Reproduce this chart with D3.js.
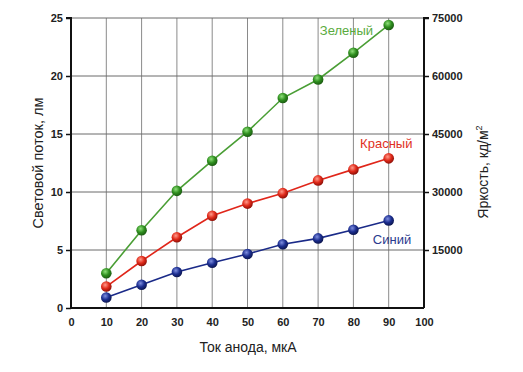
<!DOCTYPE html>
<html><head><meta charset="utf-8">
<script src="https://cdn.jsdelivr.net/npm/d3@7"></script>
<style>body{margin:0;background:#fff}svg{display:block}</style>
</head><body><svg id="c" width="523" height="372"></svg>
<script>
const current = [10,20,30,40,50,60,70,80,90];
const green = [3.0,6.7,10.1,12.7,15.2,18.1,19.7,22.0,24.4];
const red = [1.85,4.05,6.1,7.95,9.0,9.9,11.0,11.95,12.9];
const blue = [0.9,2.0,3.1,3.9,4.65,5.5,6.0,6.75,7.55];
const xTicks = [0,10,20,30,40,50,60,70,80,90,100];
const yTicks = [0,5,10,15,20,25];
const y2Ticks = [15000,30000,45000,60000,75000];
const seriesNames = ["Зеленый","Красный","Синий"];

const svg = d3.select("#c");
const L=71,R=424,T=18,B=308;
const x = d3.scaleLinear().domain([0,100]).range([L,R]);
const y = d3.scaleLinear().domain([0,25]).range([B,T]);
const y2 = d3.scaleLinear().domain([0,75000]).range([B,T]);

// gradients
const defs = svg.append("defs");
const cols = [["g","#8fe07a","#2f8f1f","#1c5c12"],["r","#ff9a8a","#e02a1a","#901008"],["b","#7f8fe0","#1c2e90","#0c1650"]];
cols.forEach(([id,c1,c2,c3])=>{
  const g=defs.append("radialGradient").attr("id","grad"+id).attr("cx","40%").attr("cy","35%").attr("r","65%");
  g.append("stop").attr("offset","0%").attr("stop-color",c1);
  g.append("stop").attr("offset","55%").attr("stop-color",c2);
  g.append("stop").attr("offset","100%").attr("stop-color",c3);
});

// grid
svg.append("g").selectAll("line").data(xTicks.slice(1,-1)).join("line")
  .attr("x1",d=>x(d)).attr("x2",d=>x(d)).attr("y1",T).attr("y2",B)
  .attr("stroke","#8a8a8a").attr("stroke-width",1);
svg.append("g").selectAll("line").data(yTicks.slice(1)).join("line")
  .attr("x1",L).attr("x2",R).attr("y1",d=>y(d)).attr("y2",d=>y(d))
  .attr("stroke","#6a6a6a").attr("stroke-width",1);

const font="Liberation Sans, Arial, sans-serif";
// axes
const ax = svg.append("g").attr("transform",`translate(0,${B})`).call(d3.axisBottom(x).tickValues(xTicks).tickSize(0).tickPadding(10));
const ay = svg.append("g").attr("transform",`translate(${L},0)`).call(d3.axisLeft(y).tickValues(yTicks).tickSize(5).tickPadding(3));
const ay2 = svg.append("g").attr("transform",`translate(${R},0)`).call(d3.axisRight(y2).tickValues(y2Ticks).tickFormat(d3.format("d")).tickSize(5).tickPadding(3));
[ax,ay,ay2].forEach(a=>{
  a.select(".domain").attr("stroke","#111").attr("stroke-width",2);
  a.selectAll(".tick line").attr("stroke","#111").attr("stroke-width",1.5);
  a.selectAll("text").attr("font-family",font).attr("font-weight","bold").attr("font-size",11).attr("fill","#222");
});
ay2.select(".domain").attr("d",`M5,${T}H0V${B}`);
ay.select(".domain").attr("d",`M-5,${T}H0V${B}`);
ax.select(".domain").attr("d",`M${L},0H${R}`);

// series
const data=[[green,"#4a9e35","g"],[red,"#e0261a","r"],[blue,"#1a2a88","b"]];
const line=d3.line().x((d,i)=>x(current[i])).y(d=>y(d));
data.forEach(([vals,col,id])=>{
  svg.append("path").datum(vals).attr("d",line).attr("fill","none").attr("stroke",col).attr("stroke-width",1.6);
  svg.append("g").selectAll("circle").data(vals).join("circle")
    .attr("cx",(d,i)=>x(current[i])).attr("cy",d=>y(d)).attr("r",5.3).attr("fill",`url(#grad${id})`);
});

// series labels
const lab=[[seriesNames[0],x(70.5),y(23.53),"#5aab3e"],[seriesNames[1],x(81.9),y(13.79),"#e0301e"],[seriesNames[2],x(85.5),y(5.52),"#2a3a8e"]];
svg.append("g").selectAll("text").data(lab).join("text")
  .attr("x",d=>d[1]).attr("y",d=>d[2]).attr("fill",d=>d[3]).attr("font-family",font).attr("font-size",13).attr("text-anchor","start").text(d=>d[0]);

// titles
svg.append("text").attr("x",248).attr("y",352).attr("text-anchor","middle").attr("font-family",font).attr("font-size",14).attr("fill","#222").text("Ток анода, мкА");
svg.append("text").attr("transform","translate(43,163) rotate(-90)").attr("text-anchor","middle").attr("font-family",font).attr("font-size",14.5).attr("fill","#222").text("Световой поток, лм");
const t2=svg.append("text").attr("transform","translate(488,172) rotate(-90)").attr("text-anchor","middle").attr("font-family",font).attr("font-size",14).attr("fill","#222");
t2.append("tspan").text("Яркость, кд/м");
t2.append("tspan").attr("font-size",9).attr("dy",-6).text("2");
</script></body></html>
